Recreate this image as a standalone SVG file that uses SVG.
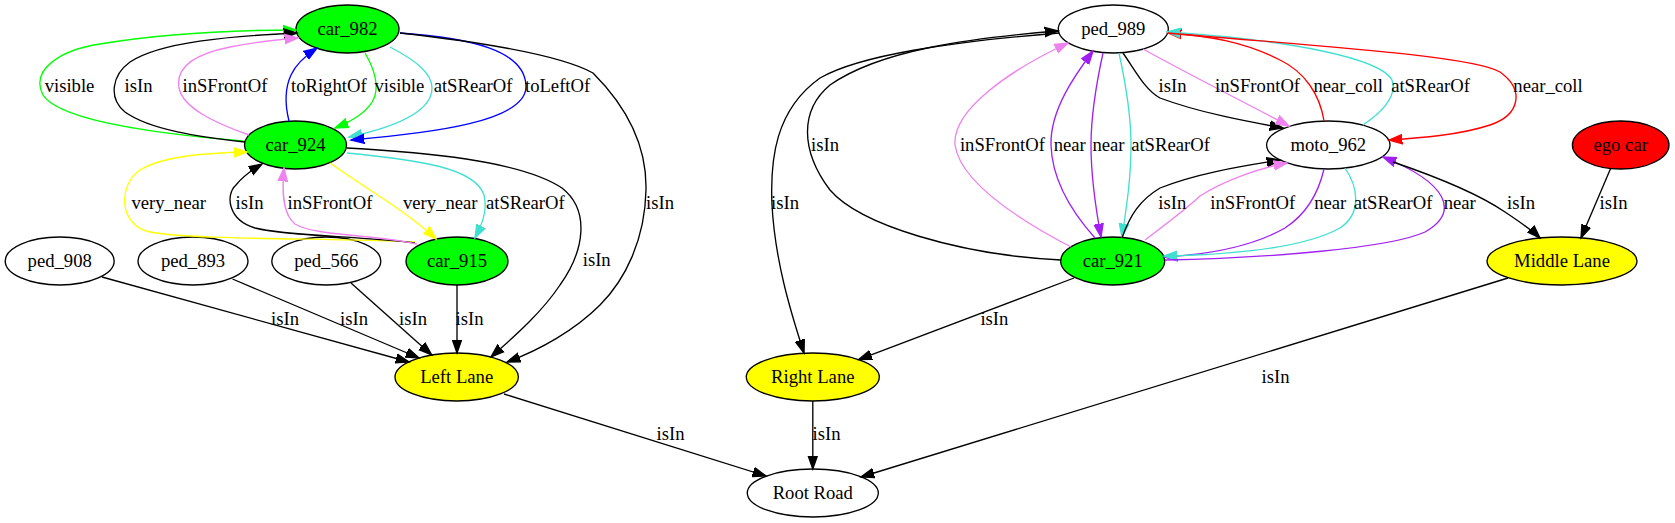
<svg xmlns="http://www.w3.org/2000/svg" width="1675" height="523" viewBox="0 0 1675 523">
<style>
text{font-family:"Liberation Serif","Times New Roman",serif;font-size:18.67px;text-anchor:middle;fill:#000}
.node ellipse{stroke:#000;stroke-width:1.33}
.w{fill:#fff}.g{fill:#00ff00}.y{fill:#ffff00}.r{fill:#ff0000}
.e{fill:none;stroke-width:1.33}
.k{stroke:#000;marker-end:url(#mk)}
.gr{stroke:#00ff00;marker-end:url(#mg)}
.bl{stroke:#0000ff;marker-end:url(#mb)}
.vi{stroke:#ee82ee;marker-end:url(#mv)}
.tq{stroke:#40e0d0;marker-end:url(#mt)}
.ye{stroke:#ffff00;marker-end:url(#my)}
.rd{stroke:#ff0000;marker-end:url(#mr)}
.pu{stroke:#a020f0;marker-end:url(#mp)}
</style>
<defs>
<marker id="mk" markerUnits="userSpaceOnUse" viewBox="0 -6 15 12" markerWidth="15" markerHeight="12" refX="13.33" refY="0" orient="auto"><path d="M0,-4.67L13.33,0L0,4.67z" fill="#000" stroke="#000" stroke-width="1.33"/></marker>
<marker id="mg" markerUnits="userSpaceOnUse" viewBox="0 -6 15 12" markerWidth="15" markerHeight="12" refX="13.33" refY="0" orient="auto"><path d="M0,-4.67L13.33,0L0,4.67z" fill="#00ff00" stroke="#00ff00" stroke-width="1.33"/></marker>
<marker id="mb" markerUnits="userSpaceOnUse" viewBox="0 -6 15 12" markerWidth="15" markerHeight="12" refX="13.33" refY="0" orient="auto"><path d="M0,-4.67L13.33,0L0,4.67z" fill="#0000ff" stroke="#0000ff" stroke-width="1.33"/></marker>
<marker id="mv" markerUnits="userSpaceOnUse" viewBox="0 -6 15 12" markerWidth="15" markerHeight="12" refX="13.33" refY="0" orient="auto"><path d="M0,-4.67L13.33,0L0,4.67z" fill="#ee82ee" stroke="#ee82ee" stroke-width="1.33"/></marker>
<marker id="mt" markerUnits="userSpaceOnUse" viewBox="0 -6 15 12" markerWidth="15" markerHeight="12" refX="13.33" refY="0" orient="auto"><path d="M0,-4.67L13.33,0L0,4.67z" fill="#40e0d0" stroke="#40e0d0" stroke-width="1.33"/></marker>
<marker id="my" markerUnits="userSpaceOnUse" viewBox="0 -6 15 12" markerWidth="15" markerHeight="12" refX="13.33" refY="0" orient="auto"><path d="M0,-4.67L13.33,0L0,4.67z" fill="#ffff00" stroke="#ffff00" stroke-width="1.33"/></marker>
<marker id="mr" markerUnits="userSpaceOnUse" viewBox="0 -6 15 12" markerWidth="15" markerHeight="12" refX="13.33" refY="0" orient="auto"><path d="M0,-4.67L13.33,0L0,4.67z" fill="#ff0000" stroke="#ff0000" stroke-width="1.33"/></marker>
<marker id="mp" markerUnits="userSpaceOnUse" viewBox="0 -6 15 12" markerWidth="15" markerHeight="12" refX="13.33" refY="0" orient="auto"><path d="M0,-4.67L13.33,0L0,4.67z" fill="#a020f0" stroke="#a020f0" stroke-width="1.33"/></marker>
</defs>
<rect width="1675" height="523" fill="#fff"/>
<g id="nodes">
<g id="car_982" class="node"><ellipse class="g" cx="347.5" cy="29" rx="51.5" ry="24"/><text x="347.5" y="35">car_982</text></g>
<g id="car_924" class="node"><ellipse class="g" cx="295.5" cy="145" rx="51" ry="24"/><text x="295.5" y="151">car_924</text></g>
<g id="car_915" class="node"><ellipse class="g" cx="457" cy="261" rx="51" ry="24"/><text x="457" y="267">car_915</text></g>
<g id="ped_908" class="node"><ellipse class="w" cx="59.7" cy="261" rx="54.5" ry="24"/><text x="59.7" y="267">ped_908</text></g>
<g id="ped_893" class="node"><ellipse class="w" cx="193" cy="261" rx="55" ry="24"/><text x="193" y="267">ped_893</text></g>
<g id="ped_566" class="node"><ellipse class="w" cx="326.3" cy="261" rx="54.5" ry="24"/><text x="326.3" y="267">ped_566</text></g>
<g id="left_lane" class="node"><ellipse class="y" cx="456.7" cy="377" rx="61.7" ry="24"/><text x="456.7" y="383">Left Lane</text></g>
<g id="right_lane" class="node"><ellipse class="y" cx="812.8" cy="377" rx="66.5" ry="24"/><text x="812.8" y="383">Right Lane</text></g>
<g id="root_road" class="node"><ellipse class="w" cx="812.8" cy="493" rx="65.5" ry="24"/><text x="812.8" y="499">Root Road</text></g>
<g id="ped_989" class="node"><ellipse class="w" cx="1113.3" cy="29" rx="55" ry="24"/><text x="1113.3" y="35">ped_989</text></g>
<g id="moto_962" class="node"><ellipse class="w" cx="1328.3" cy="145" rx="61.7" ry="24"/><text x="1328.3" y="151">moto_962</text></g>
<g id="ego_car" class="node"><ellipse class="r" cx="1620.7" cy="145" rx="48.3" ry="24"/><text x="1620.7" y="151">ego car</text></g>
<g id="car_921" class="node"><ellipse class="g" cx="1112.7" cy="261" rx="52" ry="24"/><text x="1112.7" y="267">car_921</text></g>
<g id="middle_lane" class="node"><ellipse class="y" cx="1562" cy="261" rx="75" ry="24"/><text x="1562" y="267">Middle Lane</text></g>
</g>
<g id="connectors">
<path class="e gr" d="M243,141 C170,135 60,122 43,95 C30,70 60,50 100,44 C160,34 230,30 296,30"/>
<path class="e k" d="M245,142 C200,137 150,130 125,112 C108,98 112,75 130,62 C160,42 230,36 297,33"/>
<path class="e vi" d="M249,135 C215,123 183,108 179,88 C175,65 200,53 230,47 C255,42 275,40 298,38"/>
<path class="e bl" d="M289,121 C285,105 285,88 291,75 C296,64 305,56 317,48"/>
<path class="e gr" d="M365,53 C372,65 377,78 376,90 C375,105 360,118 335,128"/>
<path class="e tq" d="M390,47 C415,60 432,73 432,88 C432,110 400,126 349,137"/>
<path class="e bl" d="M400,33 C470,38 525,50 526,86 C527,122 430,133 351,140"/>
<path class="e k" d="M400,33 C480,42 560,55 593,73 C625,105 647,145 646,190 C645,240 625,280 600,305 C575,330 540,350 507,362"/>
<path class="e k" d="M347,148 C420,152 520,160 562,188 C590,210 585,250 560,285 C540,315 510,340 491,357"/>
<path class="e ye" d="M330,163 C365,188 405,210 436,239"/>
<path class="e ye" d="M415,242 C330,238 190,240 150,232 C118,225 118,185 140,170 C165,155 210,153 247,152"/>
<path class="e k" d="M415,243 C360,236 285,236 255,228 C228,220 225,195 236,185 C243,176 252,170 262,164"/>
<path class="e vi" d="M417,244 C370,234 315,236 295,224 C282,214 282,190 284,168"/>
<path class="e tq" d="M347,153 C420,160 475,168 484,195 C488,212 481,226 475,238"/>
<path class="e k" d="M102,277 L409,362"/>
<path class="e k" d="M232.5,279 L419,358"/>
<path class="e k" d="M351,283 L431.7,355"/>
<path class="e k" d="M457,285 L457,353"/>
<path class="e k" d="M504,394 L766,476"/>
<path class="e k" d="M812.8,401 L812.8,469"/>
<path class="e k" d="M1508,278 L861,477"/>
<path class="e k" d="M1061,260 C960,255 860,225 830,190 C800,150 800,110 830,85 C880,50 970,38 1058,31"/>
<path class="e k" d="M1059,33 C950,42 860,55 820,78 C775,110 770,160 772,205 C775,260 790,310 804,353"/>
<path class="e k" d="M1123,53 C1135,70 1145,90 1160,98 C1200,113 1250,122 1283,128"/>
<path class="e vi" d="M1143,49 C1190,75 1240,100 1289,126"/>
<path class="e rd" d="M1324,121 C1320,95 1305,72 1280,60 C1245,42 1210,36 1168,33"/>
<path class="e tq" d="M1363,125 C1385,110 1397,95 1392,80 C1380,58 1290,40 1167,32"/>
<path class="e rd" d="M1168,33 C1300,45 1470,55 1500,72 C1525,90 1520,115 1490,125 C1460,135 1420,138 1389,140"/>
<path class="e vi" d="M1071,247 C1010,215 960,180 955,145 C952,110 1010,70 1068,43"/>
<path class="e pu" d="M1095,238 C1070,210 1052,180 1051,145 C1050,110 1075,75 1093,51"/>
<path class="e pu" d="M1103,53 C1096,85 1091,115 1091,145 C1091,180 1096,210 1101,237"/>
<path class="e tq" d="M1119,53 C1126,85 1131,115 1131,145 C1131,180 1126,210 1122,237"/>
<path class="e k" d="M1122,238 C1130,215 1140,200 1160,188 C1200,172 1250,165 1280,160"/>
<path class="e vi" d="M1145,240 C1165,225 1185,210 1200,196 C1225,180 1260,168 1287,163"/>
<path class="e pu" d="M1324,169 C1318,195 1305,215 1285,228 C1250,248 1200,255 1164,257"/>
<path class="e tq" d="M1345,168 C1360,190 1360,215 1340,228 C1300,250 1220,255 1164,256"/>
<path class="e pu" d="M1165,260 C1270,258 1390,248 1425,232 C1460,212 1448,183 1383,157"/>
<path class="e k" d="M1393,162 C1440,178 1480,195 1505,212 C1520,222 1532,230 1540,238"/>
<path class="e k" d="M1610.6,168.5 L1581,238"/>
<path class="e k" d="M1074,278 L858.6,359.6"/>
</g>
<g id="edge-labels">
<text x="69.5" y="92">visible</text>
<text x="138.6" y="92">isIn</text>
<text x="225" y="92">inSFrontOf</text>
<text x="328.8" y="92">toRightOf</text>
<text x="399.3" y="92">visible</text>
<text x="473" y="92">atSRearOf</text>
<text x="557.6" y="92">toLeftOf</text>
<text x="168.7" y="209">very_near</text>
<text x="249.6" y="209">isIn</text>
<text x="330" y="209">inSFrontOf</text>
<text x="440.3" y="209">very_near</text>
<text x="525.3" y="209">atSRearOf</text>
<text x="660" y="209">isIn</text>
<text x="596.7" y="266">isIn</text>
<text x="285" y="324.5">isIn</text>
<text x="354" y="324.5">isIn</text>
<text x="413" y="324.5">isIn</text>
<text x="469.6" y="324.5">isIn</text>
<text x="670.5" y="440">isIn</text>
<text x="826.6" y="440">isIn</text>
<text x="1275.6" y="383">isIn</text>
<text x="825" y="151">isIn</text>
<text x="785" y="209">isIn</text>
<text x="1002.4" y="151">inSFrontOf</text>
<text x="1069.8" y="151">near</text>
<text x="1108.5" y="151">near</text>
<text x="1170.5" y="151">atSRearOf</text>
<text x="1172.5" y="92">isIn</text>
<text x="1257.6" y="92">inSFrontOf</text>
<text x="1348.2" y="92">near_coll</text>
<text x="1430.5" y="92">atSRearOf</text>
<text x="1548" y="92">near_coll</text>
<text x="1172.3" y="209">isIn</text>
<text x="1252.8" y="209">inSFrontOf</text>
<text x="1330.3" y="209">near</text>
<text x="1393" y="209">atSRearOf</text>
<text x="1459.7" y="209">near</text>
<text x="1521" y="209">isIn</text>
<text x="1613.6" y="209">isIn</text>
<text x="994.4" y="325">isIn</text>
</g>
</svg>
